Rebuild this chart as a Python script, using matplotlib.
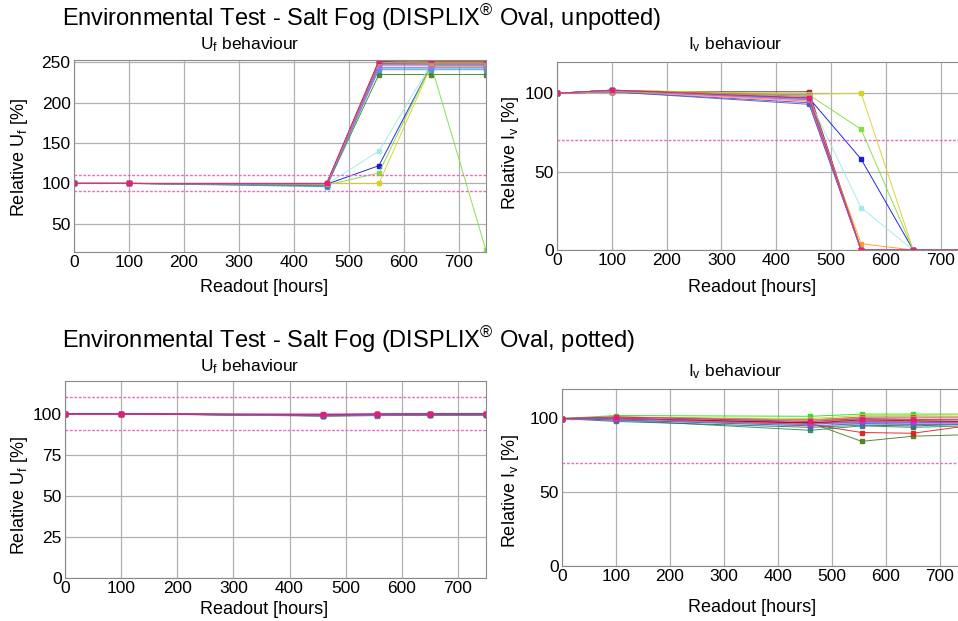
import matplotlib
matplotlib.use('Agg')
import matplotlib.pyplot as plt

plt.rcParams['font.family'] = ['Liberation Sans', 'DejaVu Sans']
plt.rcParams['mathtext.fontset'] = 'custom'
plt.rcParams['mathtext.rm'] = 'Liberation Sans'
plt.rcParams['mathtext.it'] = 'Liberation Sans:italic'

# readout times [hours]
hours = [0, 100, 460, 555, 650, 750]

# unpotted devices: colour, U_f [%], I_v [%]
unpotted_colors = ['#4a7d1e', '#e31a1c', '#8b1a1a', '#1010e0', '#7ddc3a', '#d8d020',
                   '#a0e8e8', '#ff9a20', '#8040a0', '#a0522d', '#20a0c0', '#3399ff',
                   '#ff88cc', '#999999', '#4060c0', '#b070d0', '#c8a060', '#e8197d']
uf_unpotted = [
    [100, 100, 97, 235, 235, 235],
    [100, 100, 99.5, 252, 252, 252],
    [100, 100, 100, 251, 253, 253],
    [100, 100, 99, 122, 246, 246],
    [100, 100, 98, 113, 247, 17],
    [100, 100, 100, 100, 245, 245],
    [100, 100, 99, 140, 248, 248],
    [100, 100, 99, 250, 250, 250],
    [100, 100, 99, 249, 249, 249],
    [100, 100, 99, 250, 251, 251],
    [100, 100, 96, 243, 243, 243],
    [100, 100, 99, 241, 241, 241],
    [100, 100, 99, 246, 246, 246],
    [100, 100, 99, 247, 247, 247],
    [100, 100, 98, 248, 248, 248],
    [100, 100, 99, 244, 244, 244],
    [100, 100, 99, 250, 249, 249],
    [100, 100, 100, 252, 253, 253],
]
iv_unpotted = [
    [100, 102, 99, 0, 0, 0],
    [100, 102, 96, 0, 0, 0],
    [100, 101, 101, 0, 0, 0],
    [100, 102, 97, 58, 0, 0],
    [100, 102, 99, 77, 0, 0],
    [100, 102, 99.5, 100, 0, 0],
    [100, 101, 96, 27, 0, 0],
    [100, 102, 95, 4, 0, 0],
    [100, 101, 94, 0, 0, 0],
    [100, 102, 98, 0, 0, 0],
    [100, 101, 97, 0, 0, 0],
    [100, 102, 96, 0, 0, 0],
    [100, 101, 95, 0, 0, 0],
    [100, 101, 99, 0, 0, 0],
    [100, 101, 93, 0, 0, 0],
    [100, 102, 96, 0, 0, 0],
    [100, 101, 98, 0, 0, 0],
    [100, 102, 97, 0, 0, 0],
]

# potted devices: colour, U_f [%], I_v [%]
potted_colors = ['#20e020', '#d8d020', '#4a7d1e', '#e31a1c', '#2e8b57', '#2a7060',
                 '#1010e0', '#8040a0', '#a0522d', '#ff9a20', '#a0e8e8', '#999999',
                 '#c8a060', '#4060c0', '#8b1a1a', '#c040c0', '#e8197d']
uf_potted = [
    [100, 100, 99.0, 99.3, 99.5, 99.6],
    [100, 100, 99.2, 99.8, 100.2, 100.3],
    [100, 100, 98.8, 99.0, 99.2, 99.3],
    [100, 100, 99.3, 99.6, 99.8, 99.9],
    [100, 100, 98.6, 98.9, 99.1, 99.2],
    [100, 100, 98.8, 99.1, 99.3, 99.4],
    [100, 100, 99.0, 99.4, 99.6, 99.7],
    [100, 100, 99.2, 99.5, 99.7, 99.8],
    [100, 100, 99.4, 99.7, 99.9, 100.0],
    [100, 100, 99.1, 99.5, 99.8, 99.9],
    [100, 100, 99.0, 99.2, 99.4, 99.5],
    [100, 100, 99.3, 99.6, 99.8, 99.9],
    [100, 100, 99.5, 99.9, 100.1, 100.2],
    [100, 100, 98.9, 99.2, 99.4, 99.5],
    [100, 100, 99.4, 99.8, 100.0, 100.1],
    [100, 100, 99.2, 99.6, 99.9, 100.0],
    [100, 100, 99.9, 100, 100, 100],
]
iv_potted = [
    [100, 102, 101.5, 103, 103, 103],
    [100, 101, 100, 102, 102, 102.5],
    [100, 100, 97, 84.5, 88, 89],
    [100, 99, 96, 90.5, 90, 95],
    [100, 99, 92, 95, 94, 95],
    [100, 98, 94, 95.5, 95, 96],
    [100, 100, 97, 97, 97, 97],
    [100, 100, 97, 98, 98, 98],
    [100, 101, 99, 101, 101, 101],
    [100, 100, 96, 98, 98, 97],
    [100, 99, 95, 96, 96, 96],
    [100, 100, 98, 99, 99, 99],
    [100, 101, 99, 100.5, 100.5, 101],
    [100, 99, 95, 96.5, 96, 96],
    [100, 100, 97, 99, 98.5, 98],
    [100, 100, 96, 98, 97.5, 97],
    [100, 101, 98, 100, 99.5, 99.5],
]

uf_limits = [90, 110]
iv_limit = [70]

W, H = 958, 621
fig = plt.figure(figsize=(W / 100, H / 100), dpi=100)


def px_axes(left, top, right, bottom):
    return fig.add_axes([left / W, 1 - bottom / H, (right - left) / W, (bottom - top) / H])


def px_text(x, y, s, **kw):
    fig.text(x / W, 1 - y / H, s, **kw)


def draw(ax, colors, series, limits, ylim, yticks):
    for c, ys in zip(colors, series):
        ax.plot(hours, ys, color=c, lw=0.7, marker='s', ms=2.5, alpha=0.9)
    for lim in limits:
        ax.axhline(lim, color='#e86cc4', lw=1.0, ls=(0, (2, 1.2)))
    ax.set_xlim(0, 750)
    ax.set_ylim(*ylim)
    ax.set_xticks(range(0, 800, 100))
    ax.set_yticks(yticks)
    ax.grid(True, color='#b0b0b0', lw=0.9)
    ax.set_axisbelow(True)
    ax.tick_params(length=0, labelsize=12.5, pad=2.5)
    for sp in ax.spines.values():
        sp.set_color('#8a8a8a')


ax1 = px_axes(74, 60, 486, 252)
draw(ax1, unpotted_colors, uf_unpotted, uf_limits, (15, 253), [50, 100, 150, 200, 250])
ax2 = px_axes(557, 62, 968, 250)
draw(ax2, unpotted_colors, iv_unpotted, iv_limit, (0, 120), [0, 50, 100])
ax3 = px_axes(65, 381, 486, 578)
draw(ax3, potted_colors, uf_potted, uf_limits, (0, 120), [0, 25, 50, 75, 100])
ax4 = px_axes(562, 389, 967, 566)
draw(ax4, potted_colors, iv_potted, iv_limit, (0, 120), [0, 50, 100])

title_kw = dict(fontsize=17, ha='left', va='center')
px_text(62, 18, 'Environmental Test - Salt Fog (DISPLIX$^{\\mathrm{®}}$ Oval, unpotted)', **title_kw)
px_text(62, 340, 'Environmental Test - Salt Fog (DISPLIX$^{\\mathrm{®}}$ Oval, potted)', **title_kw)

sub_kw = dict(fontsize=12.5, ha='center', va='center')
px_text(250, 45, 'U$_\\mathrm{f}$ behaviour', **sub_kw)
px_text(735, 45, 'I$_\\mathrm{v}$ behaviour', **sub_kw)
px_text(250, 367, 'U$_\\mathrm{f}$ behaviour', **sub_kw)
px_text(735, 372, 'I$_\\mathrm{v}$ behaviour', **sub_kw)

lab_kw = dict(fontsize=13, ha='center', va='center')
px_text(264, 287, 'Readout [hours]', **lab_kw)
px_text(752, 287, 'Readout [hours]', **lab_kw)
px_text(264, 609, 'Readout [hours]', **lab_kw)
px_text(752, 607, 'Readout [hours]', **lab_kw)
px_text(20, 158, 'Relative U$_\\mathrm{f}$ [%]', rotation=90, **lab_kw)
px_text(511, 153, 'Relative I$_\\mathrm{v}$ [%]', rotation=90, **lab_kw)
px_text(20, 496, 'Relative U$_\\mathrm{f}$ [%]', rotation=90, **lab_kw)
px_text(511, 491, 'Relative I$_\\mathrm{v}$ [%]', rotation=90, **lab_kw)

fig.savefig('out.png', dpi=100)
